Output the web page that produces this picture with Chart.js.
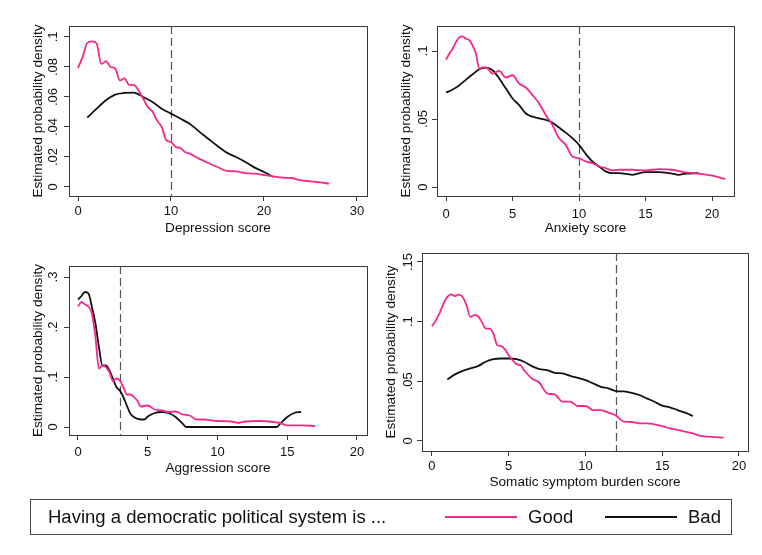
<!DOCTYPE html>
<html>
<head>
<meta charset="utf-8">
<script src="https://cdn.jsdelivr.net/npm/chart.js@4.4.1/dist/chart.umd.min.js"></script>
<style>
  body { margin: 0; background: #fff; width: 762px; height: 555px; position: relative; overflow: hidden;
         font-family: "Liberation Sans", Arial, Helvetica, sans-serif; }
  canvas { position: absolute; }
  #legend { position: absolute; left: 30px; top: 499px; width: 702px; height: 36px; box-sizing: border-box;
            border: 1px solid #4a4a4a; font-size: 18.5px; color: #111; }
  #legend span { position: absolute; top: 17px; transform: translateY(-50%); white-space: nowrap; }
  #legend i { position: absolute; top: 16px; width: 72px; height: 0; border-top: 2px solid; }
</style>
</head>
<body>
<canvas id="p1" width="381" height="250" style="left:0;top:0"></canvas>
<canvas id="p2" width="381" height="250" style="left:381px;top:0"></canvas>
<canvas id="p3" width="381" height="250" style="left:0;top:250px"></canvas>
<canvas id="p4" width="381" height="250" style="left:381px;top:250px"></canvas>
<div id="legend">
  <span style="left:17px">Having a democratic political system is ...</span>
  <i style="left:414px;border-color:#f8288a"></i>
  <span style="left:497px">Good</span>
  <i style="left:574px;border-color:#111"></i>
  <span style="left:657px">Bad</span>
</div>
<script>
// ── Data (score, density) ────────────────────────────────────

const depressionGood = [[0,.0793],[0.5,.0867],[1,.096],[1.5,.097],[2,.0956],[2.5,.082],[3,.0838],[3.5,.080],[4,.079],
  [4.5,.071],[5,.0724],[5.5,.068],[6,.068],[6.5,.0644],[7,.059],[7.5,.0533],[8,.0504],[8.5,.0444],[9,.040],[9.5,.0311],
  [10,.030],[10.5,.0267],[11,.026],[11.5,.0233],[12,.0222],[13,.0189],[14,.016],[15,.0133],[16,.0107],[17,.0104],
  [18,.0093],[19,.0089],[20,.008],[21,.0071],[22,.0062],[23,.006],[24,.0044],[25,.0038],[26,.0031],[27,.0022]];
const depressionBad = [[1,.0462],[2,.0522],[3,.0578],[4,.0616],[5,.0627],[6,.0629],[7,.060],[8,.0567],[9,.0522],
  [10,.0489],[11,.0456],[12,.0422],[13,.0371],[14,.0322],[15,.0273],[16,.0229],[17,.020],[18,.0167],[19,.0129],
  [20,.010],[21,.0067]];

const anxietyGood = [[0,.0937],[0.25,.098],[0.5,.1017],[0.75,.1066],[1,.110],[1.25,.1107],[1.5,.109],[1.75,.108],
  [2,.104],[2.25,.098],[2.5,.087],[2.75,.088],[3,.088],[3.5,.0834],[4,.0854],[4.5,.0805],[5,.0822],[5.5,.0761],
  [6,.0732],[6.5,.0676],[7,.0615],[7.5,.0529],[8,.0456],[8.5,.0359],[9,.031],[9.5,.0224],[10,.0212],[10.5,.0188],
  [11,.0176],[11.5,.0151],[12,.0139],[12.5,.0122],[13,.0127],[14,.0127],[15,.0122],[16,.0132],[17,.0127],
  [18,.0107],[19,.0098],[20,.0083],[21,.0059]];
const anxietyBad = [[0,.0695],[0.5,.0717],[1,.0749],[1.5,.079],[2,.0829],[2.5,.0866],[3,.0878],[3.5,.0859],[4,.0798],
  [4.5,.0724],[5,.0651],[5.5,.0602],[6,.0541],[6.5,.0517],[7,.0505],[7.5,.0493],[8,.0473],[8.5,.0437],[9,.040],
  [9.5,.0359],[10,.031],[10.5,.0244],[11,.0188],[11.5,.0151],[12,.0115],[12.5,.0102],[13,.0102],[14,.009],
  [15,.011],[16,.011],[17,.0098],[17.5,.009],[18,.0098],[19,.0102]];

const aggressionGood = [[0,.241],[0.25,.250],[0.5,.245],[0.75,.241],[1,.227],[1.25,.180],[1.5,.117],[1.75,.123],
  [2,.120],[2.25,.110],[2.5,.092],[2.75,.097],[3,.093],[3.25,.080],[3.5,.065],[3.75,.065],[4,.060],[4.25,.053],
  [4.5,.041],[5,.043],[5.5,.035],[6,.033],[6.5,.030],[7,.031],[7.5,.025],[8,.023],[8.5,.015],[9,.015],[10,.012],
  [11,.011],[11.5,.008],[12,.011],[13,.012],[14,.010],[14.5,.008],[15,.0033],[16,.0033],[17,.002]];
const aggressionBad = [[0,.255],[0.25,.262],[0.5,.270],[0.75,.267],[1,.240],[1.25,.207],[1.5,.160],[1.75,.123],
  [2,.123],[2.25,.113],[2.5,.097],[2.75,.080],[3,.073],[3.25,.060],[3.5,.043],[3.75,.027],[4,.020],[4.5,.015],
  [4.75,.015],[5,.021],[5.5,.028],[6,.030],[6.5,.028],[7,.020],[7.5,.0067],[7.75,0],[10,0],[12,0],[14.25,0],
  [14.5,.0067],[15,.020],[15.5,.028],[16,.030]];

const somaticGood = [[0,.0962],[0.25,.101],[0.5,.1073],[0.75,.115],[1,.1207],[1.25,.1229],[1.5,.1213],[1.75,.1227],
  [2,.1207],[2.25,.1137],[2.5,.104],[2.75,.1054],[3,.1045],[3.25,.0998],[3.5,.0942],[3.75,.0942],[4,.090],
  [4.25,.0803],[4.5,.0795],[4.75,.0767],[5,.0719],[5.25,.0677],[5.5,.0644],[5.75,.0636],[6,.0594],[6.5,.0524],
  [7,.0488],[7.5,.0399],[8,.039],[8.5,.0329],[9,.0329],[9.5,.0293],[10,.0293],[10.5,.0259],[11,.0259],[11.5,.0237],
  [12,.0212],[12.5,.0162],[13,.0159],[13.5,.0148],[14,.0148],[15,.0125],[15.5,.0106],[16,.0092],[17,.0064],
  [17.5,.0042],[18,.0036],[19,.0028]];
const somaticBad = [[1,.0516],[1.5,.0558],[2,.0588],[2.5,.0608],[3,.0627],[3.5,.0664],[4,.0686],[4.5,.0691],[5,.0691],
  [5.5,.0686],[6,.0664],[6.5,.0627],[7,.0602],[7.5,.0594],[8,.0571],[8.5,.0566],[9,.0546],[10,.051],[10.5,.0482],
  [11,.0454],[11.5,.044],[12,.0418],[12.5,.0415],[13,.0404],[13.5,.0385],[14,.0357],[14.5,.0329],[15,.0296],
  [15.5,.0282],[16,.0259],[16.5,.0237],[17,.0209]];

const depressionXTicks = [0, 10, 20, 30];
const depressionYTicks = [0, .02, .04, .06, .08, .1];
const anxietyXTicks = [0, 5, 10, 15, 20];
const anxietyYTicks = [0, .05, .1];
const aggressionXTicks = [0, 5, 10, 15, 20];
const aggressionYTicks = [0, .1, .2, .3];
const somaticXTicks = [0, 5, 10, 15, 20];
const somaticYTicks = [0, .05, .1, .15];

const cutoffs = { depression: 10, anxiety: 10, aggression: 3, somatic: 12 };

// ── Styling ──────────────────────────────────────────────────

const GOOD = "#f8288a";
const BAD = "#111111";
const AXIS = "#3a3a3a";
const FONT = '"Liberation Sans", Arial, Helvetica, sans-serif';

Chart.defaults.font.family = FONT;
Chart.defaults.color = "#111";

// stata-style labels: .05 instead of 0.05
const fmt = (v) => (v === 0 ? "0" : String(v).replace(/^0\./, "."));

// frame round the plot region + dashed cutoff line
const panelDecor = {
  id: "panelDecor",
  beforeDatasetsDraw(chart, args, opts) {
    const { ctx, chartArea: a, scales } = chart;
    const px = Math.round(scales.x.getPixelForValue(opts.cutoff)) + 0.5;
    ctx.save();
    ctx.strokeStyle = "#555";
    ctx.lineWidth = 1.2;
    ctx.setLineDash([8, 4]);
    ctx.beginPath();
    ctx.moveTo(px, a.top);
    ctx.lineTo(px, a.bottom);
    ctx.stroke();
    ctx.restore();
  },
  afterDraw(chart) {
    const { ctx, chartArea: a } = chart;
    ctx.save();
    ctx.strokeStyle = AXIS;
    ctx.lineWidth = 1;
    ctx.strokeRect(Math.round(a.left) + 0.5, Math.round(a.top) + 0.5,
      Math.round(a.right - a.left), Math.round(a.bottom - a.top));
    ctx.restore();
  },
};

function line(data, color) {
  return {
    data: data.map(([x, y]) => ({ x, y })),
    borderColor: color,
    borderWidth: 1.8,
    pointRadius: 0,
    fill: false,
    cubicInterpolationMode: "monotone",
  };
}

function makePanel(id, p) {
  new Chart(document.getElementById(id), {
    type: "line",
    data: { datasets: [line(p.good, GOOD), line(p.bad, BAD)] },
    options: {
      responsive: false,
      animation: false,
      devicePixelRatio: 1,
      layout: { padding: { left: 0, top: p.area[1], right: 381 - p.area[2], bottom: 0 } },
      plugins: {
        legend: { display: false },
        tooltip: { enabled: false },
        panelDecor: { cutoff: p.cutoff },
      },
      scales: {
        x: {
          type: "linear",
          min: p.xRange[0],
          max: p.xRange[1],
          afterBuildTicks: (s) => { s.ticks = p.xTicks.map((value) => ({ value })); },
          afterFit: (s) => { s.height = 250 - p.area[3]; s.paddingLeft = 0; s.paddingRight = 0; },
          grid: { drawOnChartArea: false, tickLength: 5, color: AXIS },
          border: { color: AXIS },
          ticks: { padding: p.xTickPad, font: { size: 13 }, maxRotation: 0, autoSkip: false, callback: fmt },
          title: { display: true, text: p.xTitle, font: { size: 13.6 }, padding: { top: 0, bottom: p.xTitleOff - 8.2 } },
        },
        y: {
          min: p.yRange[0],
          max: p.yRange[1],
          afterBuildTicks: (s) => { s.ticks = p.yTicks.map((value) => ({ value })); },
          afterFit: (s) => { s.width = p.area[0]; s.paddingTop = 0; s.paddingBottom = 0; },
          grid: { drawOnChartArea: false, tickLength: 5, color: AXIS },
          border: { color: AXIS },
          ticks: { padding: p.yTickPad, font: { size: 13 }, minRotation: 90, maxRotation: 90,
                   crossAlign: "center", autoSkip: false, callback: fmt },
          title: { display: true, text: "Estimated probability density", font: { size: 13.6 },
                   padding: { top: p.yTitleOff - 8.2, bottom: 0 } },
        },
      },
    },
    plugins: [panelDecor],
  });
}

makePanel("p1", {
  good: depressionGood, bad: depressionBad, cutoff: cutoffs.depression,
  xTicks: depressionXTicks, yTicks: depressionYTicks, xTitle: "Depression score",
  area: [69, 26, 367, 196], xRange: [-0.97, 31.08], yRange: [-0.006, 0.1073],
  xTickPad: 3, yTickPad: 2, xTitleOff: 22, yTitleOff: 38,
});

makePanel("p2", {
  good: anxietyGood, bad: anxietyBad, cutoff: cutoffs.anxiety,
  xTicks: anxietyXTicks, yTicks: anxietyYTicks, xTitle: "Anxiety score",
  area: [56, 26, 353, 196], xRange: [-0.68, 21.65], yRange: [-0.0066, 0.1184],
  xTickPad: 6, yTickPad: 0, xTitleOff: 22, yTitleOff: 25,
});

makePanel("p3", {
  good: aggressionGood, bad: aggressionBad, cutoff: cutoffs.aggression,
  xTicks: aggressionXTicks, yTicks: aggressionYTicks, xTitle: "Aggression score",
  area: [69, 16, 367, 185], xRange: [-0.645, 20.72], yRange: [-0.016, 0.322],
  xTickPad: 4.5, yTickPad: 5.5, xTitleOff: 31.7, yTitleOff: 38,
});

makePanel("p4", {
  good: somaticGood, bad: somaticBad, cutoff: cutoffs.somatic,
  xTicks: somaticXTicks, yTicks: somaticYTicks, xTitle: "Somatic symptom burden score",
  area: [41, 3, 367, 201], xRange: [-0.65, 20.59], yRange: [-0.0084, 0.1575],
  xTickPad: 2.5, yTickPad: 0, xTitleOff: 17.7, yTitleOff: 10,
});
</script>
</body>
</html>
